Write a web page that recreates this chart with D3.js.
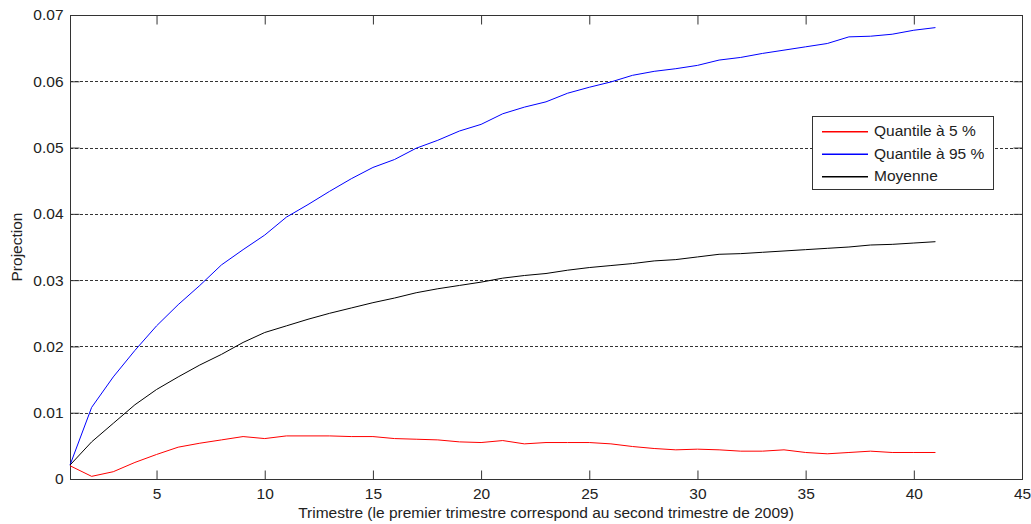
<!DOCTYPE html>
<html>
<head>
<meta charset="utf-8">
<script src="https://cdn.jsdelivr.net/npm/d3@7"></script>
<style>
  html, body { margin: 0; padding: 0; background: #fff; }
  svg { display: block; font-family: "Liberation Sans", Arial, sans-serif; }
</style>
</head>
<body>
<svg id="chart" width="1031" height="524"></svg>
<script>
const trimestres = d3.range(1, 42);
const quantile5 = [0.0020, 0.0004, 0.0011, 0.0025, 0.0037, 0.0048, 0.0054, 0.0059, 0.0064, 0.0061,
  0.0065, 0.0065, 0.0065, 0.0064, 0.0064, 0.0061, 0.0060, 0.0059, 0.0056, 0.0055,
  0.0058, 0.0053, 0.0055, 0.0055, 0.0055, 0.0053, 0.0049, 0.0046, 0.0044, 0.0045,
  0.0044, 0.0042, 0.0042, 0.0044, 0.0040, 0.0038, 0.0040, 0.0042, 0.0040, 0.0040, 0.0040];
const quantile95 = [0.0021, 0.0108, 0.0154, 0.0194, 0.0231, 0.0263, 0.0292, 0.0323, 0.0346, 0.0368,
  0.0395, 0.0414, 0.0434, 0.0453, 0.0470, 0.0482, 0.0499, 0.0511, 0.0525, 0.0535,
  0.0551, 0.0561, 0.0569, 0.0582, 0.0591, 0.0599, 0.0609, 0.0615, 0.0619, 0.0624,
  0.0632, 0.0636, 0.0642, 0.0647, 0.0652, 0.0657, 0.0667, 0.0668, 0.0671, 0.0677, 0.0681];
const moyenne = [0.0021, 0.0056, 0.0084, 0.0112, 0.0135, 0.0154, 0.0172, 0.0188, 0.0206, 0.0221,
  0.0231, 0.0241, 0.0250, 0.0258, 0.0266, 0.0273, 0.0281, 0.0287, 0.0292, 0.0297,
  0.0303, 0.0307, 0.0310, 0.0315, 0.0319, 0.0322, 0.0325, 0.0329, 0.0331, 0.0335,
  0.0339, 0.0340, 0.0342, 0.0344, 0.0346, 0.0348, 0.0350, 0.0353, 0.0354, 0.0356, 0.0358];
const xTicks = [5, 10, 15, 20, 25, 30, 35, 40, 45];
const yTicks = [0, 0.01, 0.02, 0.03, 0.04, 0.05, 0.06, 0.07];
const seriesNames = ["Quantile à 5 %", "Quantile à 95 %", "Moyenne"];
const seriesColors = ["#ff0000", "#0000ff", "#000000"];
const xLabel = "Trimestre (le premier trimestre correspond au second trimestre de 2009)";
const yLabel = "Projection";

const svg = d3.select("#chart");
const L = 70, R = 1022, T = 15, B = 479;
const x = d3.scaleLinear().domain([1, 45]).range([L, R]);
const y = d3.scaleLinear().domain([0, 0.07]).range([B, T]);
const axisColor = "#333";
const fs = 15.5;

// grid
svg.append("g").selectAll("line")
  .data(yTicks.filter(v => v > 0 && v < 0.07))
  .join("line")
  .attr("x1", L).attr("x2", R)
  .attr("y1", d => Math.round(y(d)) + 0.5).attr("y2", d => Math.round(y(d)) + 0.5)
  .attr("stroke", "#333").attr("stroke-width", 1).attr("stroke-dasharray", "3,2");

// axes
const xb = svg.append("g").attr("transform", `translate(0,${B + 0.5})`)
  .call(d3.axisBottom(x).tickValues(xTicks).tickSizeInner(-9).tickSizeOuter(0).tickPadding(14).tickFormat(d3.format("d")));
const xt = svg.append("g").attr("transform", `translate(0,${T + 0.5})`)
  .call(d3.axisTop(x).tickValues(xTicks).tickSizeInner(-9).tickSizeOuter(0).tickFormat(""));
const yl = svg.append("g").attr("transform", `translate(${L + 0.5},0)`)
  .call(d3.axisLeft(y).tickValues(yTicks).tickSizeInner(-9).tickSizeOuter(0).tickPadding(7).tickFormat(d => d === 0 ? "0" : d3.format(".2f")(d)));
const yr = svg.append("g").attr("transform", `translate(${R + 0.5},0)`)
  .call(d3.axisRight(y).tickValues(yTicks).tickSizeInner(-9).tickSizeOuter(0).tickFormat(""));
[xb, xt, yl, yr].forEach(g => {
  g.select(".domain").remove();
  g.selectAll(".tick line").attr("stroke", axisColor);
  g.selectAll("text").attr("fill", "#222").style("font-size", fs + "px").style("font-family", "Liberation Sans, Arial, sans-serif");
});
xb.selectAll(".tick text").attr("dy", "0.35em").attr("y", 14);

// box
svg.append("rect").attr("x", L + 0.5).attr("y", T + 0.5).attr("width", R - L).attr("height", B - T)
  .attr("fill", "none").attr("stroke", axisColor).attr("stroke-width", 1);

// lines
const line = d3.line().x((d, i) => x(trimestres[i])).y(d => y(d));
const allSeries = [quantile5, quantile95, moyenne];
svg.append("g").selectAll("path").data(allSeries).join("path")
  .attr("d", d => line(d))
  .attr("fill", "none")
  .attr("stroke", (d, i) => seriesColors[i])
  .attr("stroke-width", 1);

// labels
svg.append("text").attr("x", (L + R) / 2).attr("y", 513).attr("dy", "0.35em")
  .attr("text-anchor", "middle").attr("fill", "#222").style("font-size", fs + "px").text(xLabel);
svg.append("text").attr("transform", `translate(17,${(T + B) / 2}) rotate(-90)`).attr("dy", "0.35em")
  .attr("text-anchor", "middle").attr("fill", "#222").style("font-size", fs + "px").text(yLabel);

// legend
const lg = svg.append("g");
lg.append("rect").attr("x", 812.5).attr("y", 116.5).attr("width", 181).attr("height", 73)
  .attr("fill", "#fff").attr("stroke", "#333");
const rows = [131, 153.5, 176];
const legendData = seriesNames.map((n, i) => ({ name: n, color: seriesColors[i], row: rows[i] }));
lg.selectAll("rect.swatch").data(legendData).join("rect").attr("class", "swatch")
  .attr("x", 822).attr("y", d => d.row).attr("width", 46).attr("height", 1.5)
  .attr("fill", d => d.color);
lg.selectAll("text.lbl").data(legendData).join("text").attr("class", "lbl")
  .attr("x", 874).attr("y", d => d.row).attr("dy", "0.35em")
  .attr("fill", "#222").style("font-size", fs + "px").text(d => d.name);
</script>
</body>
</html>
